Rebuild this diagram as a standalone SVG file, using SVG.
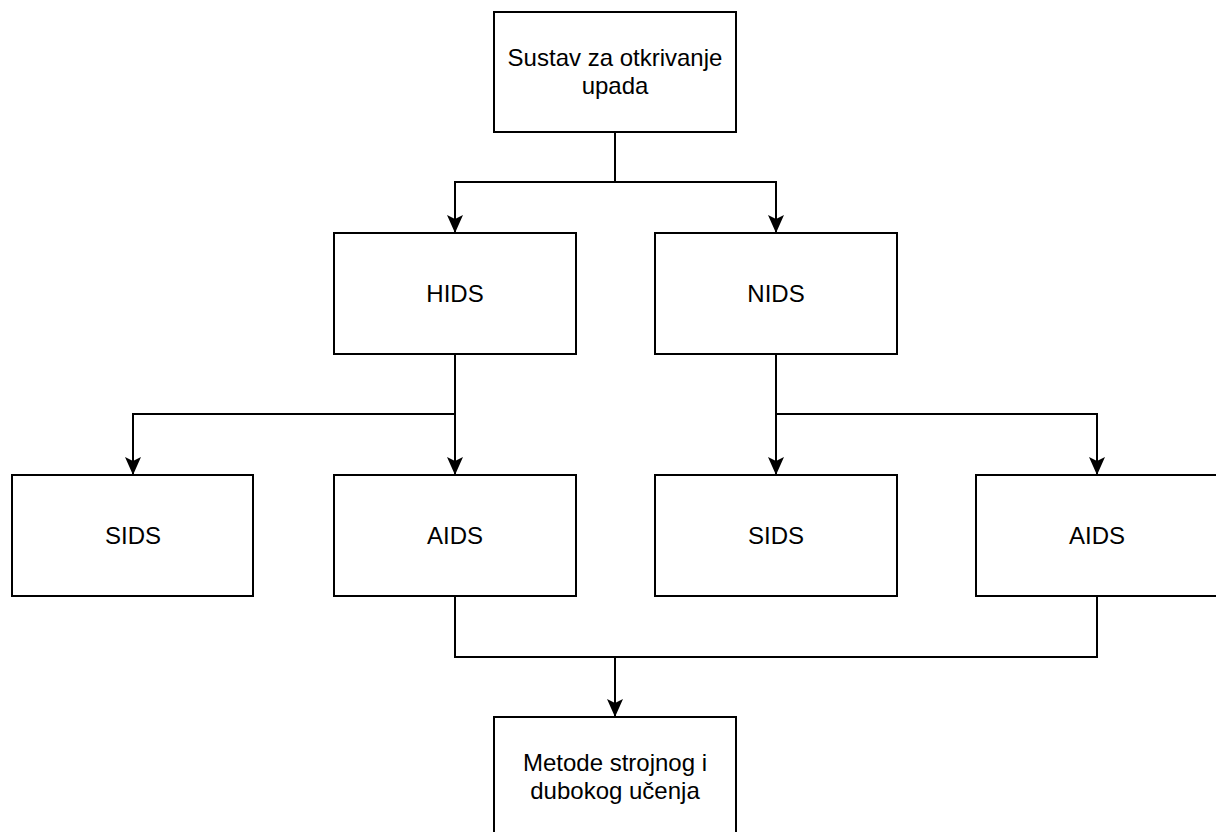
<svg xmlns="http://www.w3.org/2000/svg" width="1216" height="832" viewBox="0 0 1216 832">
<style>
.box{fill:#ffffff;stroke:#000000;stroke-width:2}
.lbl{font-family:"Liberation Sans",Arial,sans-serif;font-size:24px;fill:#000000;text-anchor:middle}
.edge{fill:none;stroke:#000000;stroke-width:2}
</style>
<defs>
<path id="ah" d="M0 0 L-8 -18 L0 -14 L8 -18 Z" fill="#000000"/>
</defs>
<rect width="1216" height="832" fill="#ffffff"/>
<g id="connectors">
<path class="edge" d="M615 132 V182 H455 V232"/>
<path class="edge" d="M615 182 H776 V232"/>
<path class="edge" d="M455 354 V474"/>
<path class="edge" d="M455 414 H133 V474"/>
<path class="edge" d="M776 354 V474"/>
<path class="edge" d="M776 414 H1097 V474"/>
<path class="edge" d="M455 596 V657 H1097 V596"/>
<path class="edge" d="M615 657 V716"/>
<use href="#ah" x="455" y="233"/>
<use href="#ah" x="776" y="233"/>
<use href="#ah" x="133" y="475"/>
<use href="#ah" x="455" y="475"/>
<use href="#ah" x="776" y="475"/>
<use href="#ah" x="1097" y="475"/>
<use href="#ah" x="615" y="717"/>
</g>
<g id="node-ids">
<rect class="box" x="494" y="12" width="242" height="120"/>
<text class="lbl" x="615" y="66">Sustav za otkrivanje</text>
<text class="lbl" x="615" y="94">upada</text>
</g>
<g id="node-hids">
<rect class="box" x="334" y="233" width="242" height="121"/>
<text class="lbl" x="455" y="302">HIDS</text>
</g>
<g id="node-nids">
<rect class="box" x="655" y="233" width="242" height="121"/>
<text class="lbl" x="776" y="302">NIDS</text>
</g>
<g id="node-sids-1">
<rect class="box" x="12" y="475" width="241" height="121"/>
<text class="lbl" x="133" y="544">SIDS</text>
</g>
<g id="node-aids-1">
<rect class="box" x="334" y="475" width="242" height="121"/>
<text class="lbl" x="455" y="544">AIDS</text>
</g>
<g id="node-sids-2">
<rect class="box" x="655" y="475" width="242" height="121"/>
<text class="lbl" x="776" y="544">SIDS</text>
</g>
<g id="node-aids-2">
<rect class="box" x="976" y="475" width="243" height="121"/>
<text class="lbl" x="1097" y="544">AIDS</text>
</g>
<g id="node-methods">
<rect class="box" x="494" y="717" width="242" height="121"/>
<text class="lbl" x="615" y="771">Metode strojnog i</text>
<text class="lbl" x="615" y="799">dubokog učenja</text>
</g>
</svg>
